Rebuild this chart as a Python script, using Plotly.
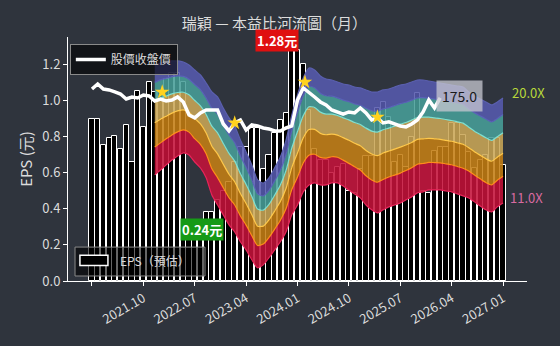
import math
import plotly.graph_objects as go

# ---------------- data ----------------
month_idx = list(range(73))  # 2021-01 ... 2027-01
eps = [0.90, 0.90, 0.755, 0.79, 0.805, 0.73, 0.865, 0.66, 1.055, 0.854,
       1.10, 1.05, 1.05, 1.12, 1.15, 1.15, 1.10, 0.30, 0.26, 0.24,
       0.38, 0.38, 0.45, 0.50, 0.55, 0.66, 0.74, 0.74, 0.85, 0.85,
       0.62, 0.70, 0.82, 0.894, 0.93, 1.28, 1.28, 1.20, 0.95, 0.73,
       0.67, 0.67, 0.60, 0.63, 0.65, 0.50, 0.49, 0.62, 0.69, 0.69,
       0.96, 0.99, 0.91, 0.66, 0.70, 0.63, 0.80, 1.04, 0.50, 0.49,
       0.72, 0.74, 0.74, 0.875, 0.875, 0.81, 0.715, 0.625, 0.67, 0.70,
       0.79, 0.79, 0.644]

price_idx = list(range(62))
price = [184.2, 189.5, 184.2, 183.2, 181.1, 179.0, 174.0, 176.0, 175.0, 178.0,
         177.0, 172.0, 174.0, 172.0, 173.0, 176.0, 171.1, 158.8, 156.2, 160.7,
         163.4, 163.4, 163.4, 150.9, 145.0, 151.8, 154.4, 145.8, 150.1, 149.2,
         147.5, 146.7, 145.0, 145.0, 147.5, 149.2, 173.0, 185.3, 181.1, 176.0,
         171.1, 168.2, 163.4, 161.6, 159.7, 161.6, 160.7, 165.3, 160.7, 154.4,
         156.2, 151.8, 152.7, 150.9, 149.2, 148.4, 150.9, 154.4, 161.6, 173.0,
         165.3, 175.0]

band_idx = list(range(11, 73))
# price of the 20.0X (top) and 11.0X (bottom) river lines
band_top = [211.2, 213.6, 214.8, 216.1, 216.1, 214.8, 211.2, 205.3, 199.5, 190.6,
            181.1, 176.0, 165.3, 156.2, 149.2, 137.8, 128.7, 119.5, 109.7, 107.8,
            111.0, 117.5, 125.1, 137.8, 158.8, 178.0, 196.1, 207.6, 205.3, 198.4,
            195.0, 193.9, 191.7, 189.5, 188.4, 186.3, 185.3, 183.2, 181.1, 181.1,
            183.2, 184.2, 186.3, 188.4, 189.5, 191.7, 193.9, 193.9, 192.8, 191.7,
            190.6, 189.5, 188.4, 187.4, 186.3, 181.1, 177.0, 174.0, 171.1, 168.2,
            171.1, 175.0]
band_bottom = [112.9, 116.1, 119.5, 122.9, 125.8, 127.9, 126.5, 121.5, 117.5, 111.0,
               100.7, 95.1, 89.9, 84.9, 81.6, 77.1, 73.6, 69.6, 66.5, 67.6,
               70.4, 73.6, 77.1, 81.6, 89.9, 95.1, 102.5, 106.6, 107.9, 106.6,
               106.6, 107.9, 107.9, 106.0, 103.6, 101.3, 99.0, 95.1, 92.5, 90.9,
               92.5, 94.1, 95.1, 96.2, 97.9, 99.6, 101.9, 102.5, 103.6, 103.6,
               103.6, 103.0, 102.5, 101.3, 100.2, 99.0, 96.8, 94.6, 92.5, 91.4,
               94.1, 96.2]
pe_levels = [11.0, 12.8, 14.6, 16.4, 18.2, 20.0]

star_idx = [12.3, 25.0, 37.3, 50.0]
star_price = [181.0, 151.8, 191.6, 157.0]

tick_pos = [0, 9, 18, 27, 36, 45, 54, 63, 72]
tick_text = ["", "2021.10", "2022.07", "2023.04", "2024.01", "2024.10",
             "2025.07", "2026.04", "2027.01"]

band_fill = ["rgba(196,18,58,0.88)", "rgba(196,126,20,0.88)",
             "rgba(202,166,86,0.88)", "rgba(72,158,152,0.88)",
             "rgba(86,90,174,0.88)"]
band_line = ["#e8245a", "#ff8c1a", "#ffc84a", "#7fe0d0", "#5a62b8", "#5a5fae"]

BG = "#2f343d"
TXT = "#dcdcdc"
FONT = "Noto Sans CJK TC"

fig = go.Figure()

fig.add_trace(go.Bar(
    x=month_idx, y=eps, width=0.9,
    marker=dict(color="black", line=dict(color="white", width=1)),
    name="EPS（預估）", showlegend=False, yaxis="y"))

lo, hi = pe_levels[0], pe_levels[-1]
for k, pe in enumerate(pe_levels):
    f = math.log(pe / lo) / math.log(hi / lo)
    vals = [b * (t / b) ** f for b, t in zip(band_bottom, band_top)]
    fig.add_trace(go.Scatter(
        x=band_idx, y=vals, yaxis="y2", mode="lines",
        line=dict(color=band_line[k], width=1.2, shape="spline", smoothing=0.6),
        fill=None if k == 0 else "tonexty",
        fillcolor=None if k == 0 else band_fill[k - 1],
        showlegend=False, hoverinfo="skip"))

fig.add_trace(go.Scatter(
    x=price_idx, y=price, yaxis="y2", mode="lines",
    line=dict(color="white", width=3.5),
    name="股價收盤價", legend="legend"))

fig.add_trace(go.Scatter(
    x=star_idx, y=star_price, yaxis="y2", mode="markers",
    marker=dict(symbol="star", size=11, color="#ffd21f"),
    showlegend=False, hoverinfo="skip"))

fig.update_layout(
    width=560, height=346,
    margin=dict(l=68, r=33, t=37, b=65),
    paper_bgcolor=BG, plot_bgcolor=BG,
    font=dict(family=FONT, color=TXT, size=13),
    title=dict(text="瑞穎 — 本益比河流圖（月）", x=0.49, xanchor="center",
               y=0.932, yanchor="middle", font=dict(size=15, color=TXT)),
    bargap=0,
    showlegend=True,
    xaxis=dict(range=[-4.2, 76.2], tickmode="array", tickvals=tick_pos,
               ticktext=tick_text, tickangle=-30, showgrid=False,
               zeroline=False, showline=True, linecolor="white", linewidth=1,
               ticks="outside", ticklen=4, tickcolor="white",
               tickfont=dict(size=13, color=TXT)),
    yaxis=dict(range=[0, 1.352], tickvals=[0, 0.2, 0.4, 0.6, 0.8, 1.0, 1.2],
               ticktext=["0.0", "0.2", "0.4", "0.6", "0.8", "1.0", "1.2"],
               showgrid=False, zeroline=False, showline=True,
               linecolor="white", linewidth=1, ticks="outside", ticklen=4,
               tickcolor="white", tickfont=dict(size=13, color=TXT),
               title=dict(text="EPS (元)", font=dict(size=15, color=TXT),
                          standoff=6)),
    yaxis2=dict(type="log", range=[1.790, 2.394], overlaying="y",
                visible=False, showgrid=False),
    legend=dict(x=0.004, y=0.971, xanchor="left", yanchor="top",
                bgcolor="rgba(0,0,0,0.6)", bordercolor="#8a8a8a",
                borderwidth=1, font=dict(size=12, color=TXT),
                itemwidth=30),
)

# second legend box (EPS) drawn as shapes so its key is a wide rectangle
fig.add_shape(type="rect", xref="paper", yref="paper",
              x0=0.0153, x1=0.2985, y0=0.0205, y1=0.139,
              fillcolor="rgba(0,0,0,0.6)", line=dict(color="#8a8a8a", width=1),
              layer="above")
fig.add_shape(type="rect", xref="paper", yref="paper",
              x0=0.026, x1=0.087, y0=0.064, y1=0.106,
              fillcolor="black", line=dict(color="white", width=1.5),
              layer="above")
fig.add_annotation(xref="paper", yref="paper", x=0.108, y=0.084,
                   text="EPS（預估）", xanchor="left", yanchor="middle",
                   showarrow=False, font=dict(size=12, color=TXT))

annos = [
    dict(x=32.4, y=1.335, text="<b>1.28元</b>", bgcolor="#e01010",
         font=dict(color="white", size=13), borderpad=1),
    dict(x=19.3, y=0.288, text="<b>0.24元</b>", bgcolor="#169a16",
         font=dict(color="white", size=13), borderpad=1),
    dict(x=64.4, y=1.025, text="175.0", bgcolor="rgba(200,200,210,0.75)",
         font=dict(color="#1a1a1a", size=14), borderpad=5),
]
for a in annos:
    fig.add_annotation(xref="x", yref="y", showarrow=False, **a)

fig.add_annotation(xref="paper", yref="y", x=0.963, y=1.042, text="20.0X",
                   xanchor="left", showarrow=False,
                   font=dict(color="#b8d83a", size=13))
fig.add_annotation(xref="paper", yref="y", x=0.959, y=0.465, text="11.0X",
                   xanchor="left", showarrow=False,
                   font=dict(color="#d86aa0", size=13))

fig.write_html("out.html")
